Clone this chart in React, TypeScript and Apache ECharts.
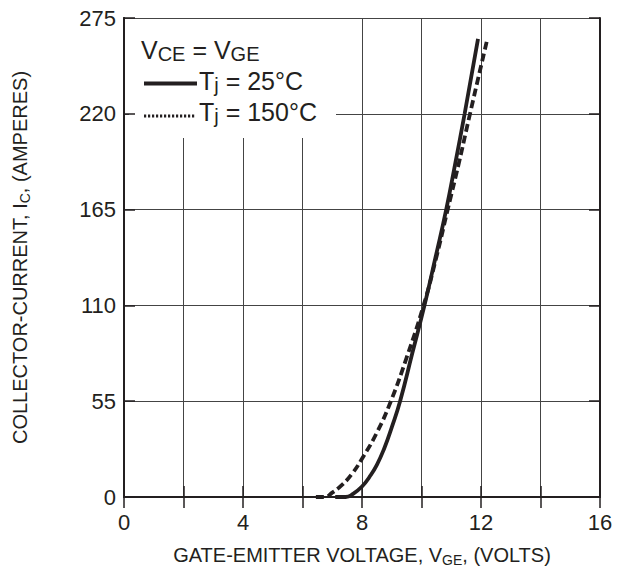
import React, { useEffect, useRef } from "react";
import * as echarts from "echarts";

const vge25 = [7.1, 7.45, 7.7, 8.0, 8.25, 8.5, 8.75, 9.0, 9.28, 9.69, 10.1, 10.47, 10.83, 11.14, 11.45, 11.9];
const ic25 = [0, 0, 1.8, 6, 11.5, 18.5, 28, 40, 55, 82.5, 110, 137.5, 165, 192, 220, 263];
const vge150 = [6.45, 6.75, 7.0, 7.3, 7.65, 8.0, 8.5, 8.97, 9.5, 10.07, 10.49, 10.88, 11.26, 11.63, 12.2];
const ic150 = [0, 0, 2.5, 6.5, 13, 22, 37, 55, 80, 110, 137, 165, 192, 220, 262];
const xTicks = [0, 4, 8, 12, 16];
const yTicks = [0, 55, 110, 165, 220, 275];

const FONT = "'Liberation Sans', Arial, Helvetica, sans-serif";
const INK = "#231f20";

export default function App() {
  const ref = useRef<HTMLDivElement>(null);
  useEffect(() => {
    if (!ref.current) return;
    const chart = echarts.init(ref.current, undefined, { renderer: "svg" });
    const pair = (xs: number[], ys: number[]) => xs.map((x, i) => [x, ys[i]]);
    const titleRich = {
      sub: { fontSize: 14, fontFamily: FONT, color: INK, verticalAlign: "bottom", lineHeight: 12 },
    };
    const legendRich = {
      sub: { fontSize: 20, fontFamily: FONT, fill: INK, verticalAlign: "bottom", lineHeight: 17 },
    };
    const frameAxis = {
      axisLine: { show: true, lineStyle: { color: INK, width: 2 } },
      axisTick: { show: true, inside: true, length: 11, lineStyle: { color: INK, width: 1.5 } },
      axisLabel: { show: false },
      splitLine: { show: false },
    };
    chart.setOption({
      animation: false,
      backgroundColor: "#fff",
      grid: { left: 120, right: 19, top: 18, bottom: 78 },
      xAxis: [
        {
          type: "value",
          min: 0,
          max: 16,
          interval: 2,
          position: "bottom",
          z: 0,
          axisLine: { show: true, lineStyle: { color: INK, width: 2 } },
          axisTick: { show: true, inside: true, length: 11, lineStyle: { color: INK, width: 1.5 } },
          axisLabel: {
            margin: 14,
            fontSize: 22,
            fontFamily: FONT,
            color: INK,
            formatter: (v: number) => (xTicks.includes(v) ? String(v) : ""),
          },
          splitLine: { show: true, lineStyle: { color: "#444", width: 1 } },
          name: "GATE-EMITTER VOLTAGE, V{sub|GE}, (VOLTS)",
          nameLocation: "middle",
          nameGap: 46,
          nameTextStyle: { fontSize: 20, fontFamily: FONT, color: INK, lineHeight: 24, rich: titleRich },
        },
        { type: "value", min: 0, max: 16, interval: 2, position: "top", z: 20, ...frameAxis },
      ],
      yAxis: [
        {
          type: "value",
          min: 0,
          max: 275,
          interval: 55,
          position: "left",
          z: 0,
          axisLine: { show: true, lineStyle: { color: INK, width: 2 } },
          axisTick: { show: false },
          axisLabel: {
            margin: 8,
            fontSize: 22,
            fontFamily: FONT,
            color: INK,
            formatter: (v: number) => (yTicks.includes(v) ? String(v) : ""),
          },
          splitLine: { show: true, lineStyle: { color: "#444", width: 1 } },
          name: "COLLECTOR-CURRENT, I{sub|C}, (AMPERES)",
          nameLocation: "middle",
          nameGap: 92,
          nameTextStyle: { fontSize: 20, fontFamily: FONT, color: INK, lineHeight: 24, rich: titleRich },
        },
        { type: "value", min: 0, max: 275, interval: 55, position: "left", z: 20, ...frameAxis },
        { type: "value", min: 0, max: 275, interval: 55, position: "right", z: 20, ...frameAxis },
      ],
      graphic: [
        {
          type: "rect",
          z: 1,
          shape: { x: 129, y: 19, width: 207, height: 119 },
          style: { fill: "#fff" },
        },
        {
          type: "text",
          z: 2,
          x: 141,
          y: 50,
          style: {
            text: "V{sub|CE} = V{sub|GE}",
            fontSize: 25,
            fontFamily: FONT,
            fill: INK,
            lineHeight: 28,
            verticalAlign: "middle",
            rich: legendRich,
          },
        },
        {
          type: "line",
          z: 2,
          shape: { x1: 144, y1: 83.5, x2: 197, y2: 83.5 },
          style: { stroke: INK, lineWidth: 4 },
        },
        {
          type: "text",
          z: 2,
          x: 199,
          y: 81,
          style: {
            text: "T{sub|j} = 25°C",
            fontSize: 25,
            fontFamily: FONT,
            fill: INK,
            lineHeight: 28,
            verticalAlign: "middle",
            rich: legendRich,
          },
        },
        {
          type: "line",
          z: 2,
          shape: { x1: 144, y1: 116, x2: 196, y2: 116 },
          style: { stroke: INK, lineWidth: 3, lineDash: [2.2, 1.8] },
        },
        {
          type: "text",
          z: 2,
          x: 199,
          y: 112,
          style: {
            text: "T{sub|j} = 150°C",
            fontSize: 25,
            fontFamily: FONT,
            fill: INK,
            lineHeight: 28,
            verticalAlign: "middle",
            rich: legendRich,
          },
        },
      ],
      series: [
        {
          name: "Tj = 25°C",
          type: "line",
          data: pair(vge25, ic25),
          smooth: 0.5,
          showSymbol: false,
          symbol: "none",
          z: 8,
          lineStyle: { color: INK, width: 3.8, type: "solid" },
        },
        {
          name: "Tj = 150°C",
          type: "line",
          data: pair(vge150, ic150),
          smooth: 0.5,
          showSymbol: false,
          symbol: "none",
          z: 8,
          lineStyle: { color: INK, width: 3.8, type: [8, 4] },
        },
      ],
    });
    return () => chart.dispose();
  }, []);
  return (
    <div
      ref={ref}
      style={{ position: "absolute", left: 0, top: 0, width: 619, height: 575 }}
    />
  );
}
